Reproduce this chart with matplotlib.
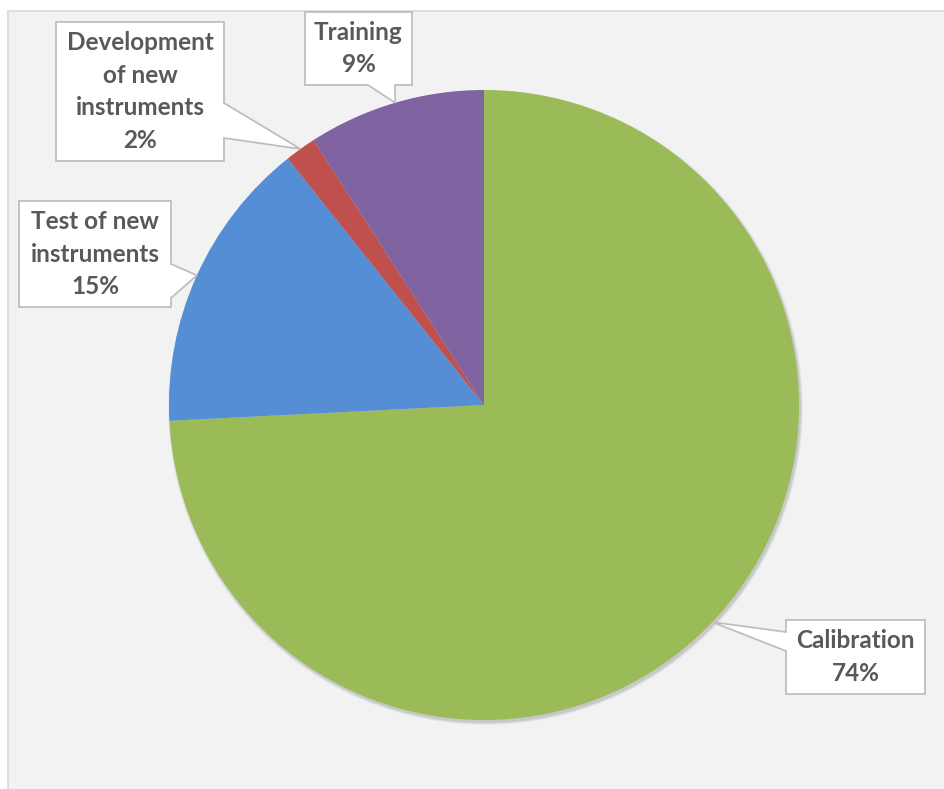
import numpy as np
import matplotlib.pyplot as plt
from matplotlib.patches import Rectangle, Polygon, Circle

# data
labels = ["Calibration", "Test of new\ninstruments", "Development\nof new\ninstruments", "Training"]
values = [74.2, 15.1, 1.6, 9.1]
colors = ["#9BBB59", "#558ED5", "#C0504D", "#8064A2"]

W, H = 945, 789
fig = plt.figure(figsize=(W / 100, H / 100), dpi=100)
ax = fig.add_axes([0, 0, 1, 1])


def Y(y):
    # pixel-from-top -> axes y
    return H - y


# chart area
ax.add_patch(Rectangle((8, -5), W + 10, Y(11) + 5, facecolor="#f2f2f2",
                       edgecolor="#d9d9d9", lw=1.2, zorder=0))

cx, cy, r = 484, Y(405), 315

# soft shadow, mostly lower right
for k, a in [(2.5, 0.04), (1.5, 0.06), (0.5, 0.08)]:
    ax.add_patch(Circle((cx + 1.5, cy - 2.5), r + k, facecolor="#000000",
                        alpha=a, lw=0, zorder=1))

wedges, _ = ax.pie(values, colors=colors, startangle=90, counterclock=False,
                   center=(cx, cy), radius=r, frame=True,
                   wedgeprops=dict(linewidth=0))
for w in wedges:
    w.set_zorder(2)
ax.set_xlim(0, W)
ax.set_ylim(0, H)
ax.set_aspect("equal")
ax.axis("off")

# callout boxes: (x0, y0, x1, y1), side, base start, base end
boxes = [
    ((786, 620, 925, 694), "left", 632, 651),
    ((19, 201, 171, 307), "right", 264, 298),
    ((56, 22, 224, 161), "right", 103, 138),
    ((305, 12, 412, 85), "bottom", 368, 395),
]

for w, lab, v, (rect, side, b0, b1) in zip(wedges, labels, values, boxes):
    mid = np.deg2rad((w.theta1 + w.theta2) / 2)
    tip = (cx + r * np.cos(mid), cy + r * np.sin(mid))
    x0, y0, x1, y1 = rect
    if side == "left":
        pts = [(x0, Y(y0)), (x1, Y(y0)), (x1, Y(y1)), (x0, Y(y1)),
               (x0, Y(b1)), tip, (x0, Y(b0))]
    elif side == "right":
        pts = [(x0, Y(y0)), (x1, Y(y0)), (x1, Y(b0)), tip, (x1, Y(b1)),
               (x1, Y(y1)), (x0, Y(y1))]
    else:
        pts = [(x0, Y(y0)), (x1, Y(y0)), (x1, Y(y1)), (b1, Y(y1)), tip,
               (b0, Y(y1)), (x0, Y(y1))]
    ax.add_patch(Polygon(pts, closed=True, facecolor="white",
                         edgecolor="#bfbfbf", lw=1.3, zorder=3))
    ax.text((x0 + x1) / 2, Y((y0 + y1) / 2), "{}\n{:.0f}%".format(lab, v),
            ha="center", va="center", fontsize=17.5, fontweight="bold",
            family="Lato", color="#595959", linespacing=1.5, zorder=4)

fig.savefig("out.png", dpi=100)
